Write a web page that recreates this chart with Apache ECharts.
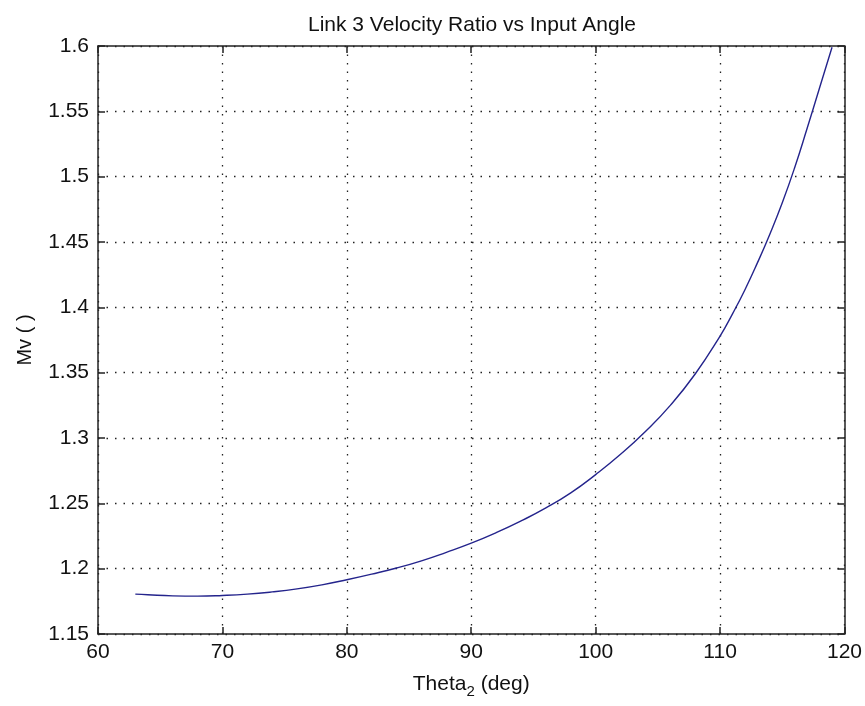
<!DOCTYPE html>
<html>
<head>
<meta charset="utf-8">
<script src="https://cdn.jsdelivr.net/npm/echarts@6/dist/echarts.min.js"></script>
<style>html,body{margin:0;padding:0;background:#fff;}#c{width:865px;height:706px;}</style>
</head>
<body>
<div id="c"></div>
<script>
var theta = [63, 64, 66, 68, 70, 72, 74, 76, 78, 80, 82, 84, 86, 88, 90, 92, 94, 96, 98, 100, 102, 104, 106, 108, 110, 111, 112, 113, 114, 115, 116, 117, 118, 119];
var mv = [1.1805, 1.1800, 1.1792, 1.1790, 1.1795, 1.1805, 1.1822, 1.1845, 1.1876, 1.1915, 1.1958, 1.2005, 1.2060, 1.2125, 1.2195, 1.2275, 1.2365, 1.2465, 1.2580, 1.2720, 1.2875, 1.3050, 1.3250, 1.3490, 1.3780, 1.3950, 1.4135, 1.4340, 1.4560, 1.4800, 1.5070, 1.5370, 1.5680, 1.5990];
var titleText = 'Link 3 Velocity Ratio vs Input Angle';
var xName = 'Theta';
var xSub = '2';
var xUnit = ' (deg)';
var yName = 'Mv ( )';

var data = theta.map(function(t, i){ return [t, mv[i]]; });
var fontFam = '"Liberation Sans", Arial, sans-serif';
var chart = echarts.init(document.getElementById('c'));
var gridStyle = { show: true, lineStyle: { color: '#222', type: [1.5, 7], width: 1.3 } };
chart.setOption({
  backgroundColor: '#fff',
  animation: false,
  title: {
    text: titleText, left: 467, top: 10, textAlign: 'center',
    textStyle: { fontFamily: fontFam, fontSize: 21, fontWeight: 'normal', color: '#111' }
  },
  grid: { left: 98, right: 20, top: 46, bottom: 72 },
  xAxis: [{
    type: 'value', min: 60, max: 120, interval: 10,
    name: '{a|' + xName + '}{s|' + xSub + '}{a|' + xUnit + '}',
    nameLocation: 'middle', nameGap: 36,
    nameTextStyle: { rich: {
      a: { fontFamily: fontFam, fontSize: 21, color: '#111' },
      s: { fontFamily: fontFam, fontSize: 15, color: '#111', padding: [14, 0, 0, 0] }
    } },
    axisLine: { show: true, onZero: false, lineStyle: { color: '#222', width: 1.5 } },
    axisTick: { show: true, inside: true, length: 7, lineStyle: { color: '#222', width: 1.5 } },
    axisLabel: { fontFamily: fontFam, fontSize: 21, color: '#111', margin: 8 },
    splitLine: gridStyle
  }, {
    type: 'value', min: 60, max: 120, interval: 10, position: 'top',
    axisLine: { show: true, onZero: false, lineStyle: { color: '#222', width: 1.5 } },
    axisTick: { show: true, inside: true, length: 7, lineStyle: { color: '#222', width: 1.5 } },
    axisLabel: { show: false }, splitLine: { show: false }
  }],
  yAxis: [{
    type: 'value', min: 1.15, max: 1.6, interval: 0.05,
    name: yName, nameLocation: 'middle', nameGap: 63, nameRotate: 90,
    nameTextStyle: { fontFamily: fontFam, fontSize: 20, color: '#111' },
    axisLine: { show: true, onZero: false, lineStyle: { color: '#222', width: 1.5 } },
    axisTick: { show: true, inside: true, length: 7, lineStyle: { color: '#222', width: 1.5 } },
    axisLabel: { fontFamily: fontFam, fontSize: 21, color: '#111', margin: 9,
      formatter: function(v){ return String(parseFloat(v.toFixed(2))); } },
    splitLine: gridStyle
  }, {
    type: 'value', min: 1.15, max: 1.6, interval: 0.05, position: 'right',
    axisLine: { show: true, onZero: false, lineStyle: { color: '#222', width: 1.5 } },
    axisTick: { show: true, inside: true, length: 7, lineStyle: { color: '#222', width: 1.5 } },
    axisLabel: { show: false }, splitLine: { show: false }
  }],
  series: [{
    type: 'line', data: data, showSymbol: false, smooth: true,
    lineStyle: { color: '#24248c', width: 1.4 }, clip: true
  }]
});
</script>
</body>
</html>
